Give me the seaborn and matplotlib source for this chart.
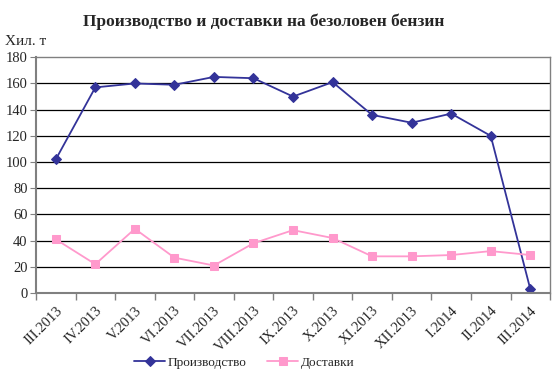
import pandas as pd
import seaborn as sns
import matplotlib.pyplot as plt
from matplotlib.ticker import FixedLocator

# ========= data =========
months = ["III.2013", "IV.2013", "V.2013", "VI.2013", "VII.2013", "VIII.2013",
          "IX.2013", "X.2013", "XI.2013", "XII.2013", "I.2014", "II.2014", "III.2014"]
production = [102, 157, 160, 159, 165, 164, 150, 161, 136, 130, 137, 120, 3]
deliveries = [41, 22, 49, 27, 21, 38, 48, 42, 28, 28, 29, 32, 29]

df = pd.DataFrame({"month": months, "prod": production, "deliv": deliveries})

sns.set_style("white")
plt.rcParams["font.family"] = ["Liberation Serif", "DejaVu Serif"]

fig = plt.figure(figsize=(5.59, 3.76), dpi=100)
ax = fig.add_axes([0.0644, 0.2207, 0.9196, 0.627])

sns.lineplot(data=df, x="month", y="prod", sort=False, ax=ax, color="#333399",
             marker="D", markersize=5, linewidth=1.3, markeredgecolor="#333399",
             label="Производство")
sns.lineplot(data=df, x="month", y="deliv", sort=False, ax=ax, color="#FF99CC",
             marker="s", markersize=6, linewidth=1.3, markeredgecolor="#FF99CC",
             label="Доставки")

ax.set_xlim(-0.5, len(months) - 0.5)
ax.set_ylim(0, 180)
ax.set_yticks(range(0, 181, 20))
for v in range(20, 180, 20):
    ax.axhline(v, color="black", linewidth=0.9, zorder=0)

ax.set_xticks(range(len(months)))
ax.set_xticklabels(months, rotation=45, ha="right", rotation_mode="anchor", fontsize=10.5)
ax.xaxis.set_minor_locator(FixedLocator([i - 0.5 for i in range(len(months) + 1)]))
ax.tick_params(axis="x", which="major", length=0, pad=8)
ax.tick_params(axis="x", which="minor", length=5, color="#808080", width=1, bottom=True)
ax.tick_params(axis="y", length=4, color="#808080", left=True, labelsize=10.5, pad=2)

for s in ax.spines.values():
    s.set_color("#808080")
    s.set_linewidth(1)
ax.spines["left"].set_linewidth(1.5)
ax.spines["bottom"].set_linewidth(1.5)

ax.set_xlabel("")
ax.set_ylabel("")
fig.text(0.009, 0.88, "Хил. т", fontsize=11)
fig.suptitle("Производство и доставки на безоловен бензин", x=0.472, y=0.965,
             fontsize=12.5, fontweight="bold")

ax.legend(loc="center", bbox_to_anchor=(0.405, -0.295), ncol=2, frameon=False,
          fontsize=9.5, handlelength=2.4, columnspacing=1.5, handletextpad=0.2)

plt.savefig("out.png", dpi=100)
